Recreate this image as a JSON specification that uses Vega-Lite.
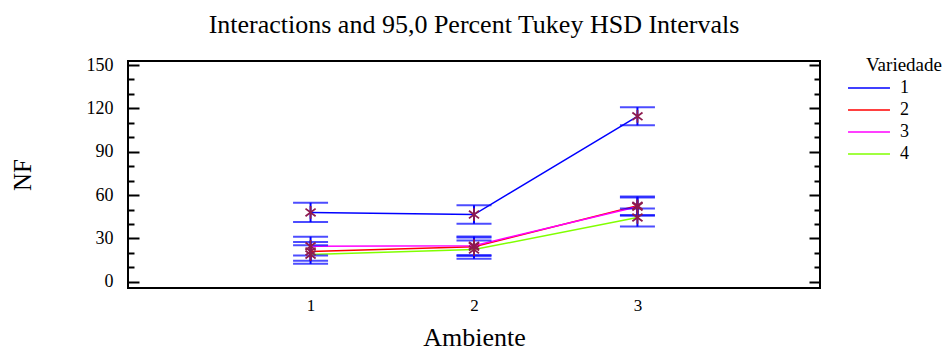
{
  "$schema": "https://vega.github.io/schema/vega-lite/v6.json",
  "width": 692,
  "height": 227,
  "autosize": "none",
  "padding": {"left": 128, "top": 61, "right": 126, "bottom": 59},
  "background": "white",
  "title": {
    "text": "Interactions and 95,0 Percent Tukey HSD Intervals",
    "font": "Liberation Serif",
    "fontSize": 26,
    "fontWeight": "normal",
    "color": "black",
    "anchor": "middle",
    "baseline": "alphabetic",
    "offset": -3
  },
  "config": {
    "view": {"stroke": "black", "strokeWidth": 2},
    "axis": {"grid": false, "domain": false, "labelFont": "Liberation Serif", "titleFont": "Liberation Serif", "labelColor": "black", "titleColor": "black", "tickColor": "black", "titleFontWeight": "normal"}
  },
  "data": {
    "values": [
      {"Ambiente": 1, "Variedade": "1", "NF": 48.0, "lower": 41.3, "upper": 54.7},
      {"Ambiente": 2, "Variedade": "1", "NF": 46.5, "lower": 40.2, "upper": 52.9},
      {"Ambiente": 3, "Variedade": "1", "NF": 114.5, "lower": 108.3, "upper": 120.8},
      {"Ambiente": 1, "Variedade": "2", "NF": 21.0, "lower": 14.5, "upper": 27.5},
      {"Ambiente": 2, "Variedade": "2", "NF": 24.3, "lower": 17.9, "upper": 30.7},
      {"Ambiente": 3, "Variedade": "2", "NF": 52.6, "lower": 46.2, "upper": 59.0},
      {"Ambiente": 1, "Variedade": "3", "NF": 24.6, "lower": 18.2, "upper": 31.2},
      {"Ambiente": 2, "Variedade": "3", "NF": 25.0, "lower": 18.6, "upper": 31.4},
      {"Ambiente": 3, "Variedade": "3", "NF": 52.0, "lower": 45.7, "upper": 58.4},
      {"Ambiente": 1, "Variedade": "4", "NF": 18.8, "lower": 12.4, "upper": 25.2},
      {"Ambiente": 2, "Variedade": "4", "NF": 22.3, "lower": 16.0, "upper": 28.6},
      {"Ambiente": 3, "Variedade": "4", "NF": 44.5, "lower": 38.2, "upper": 50.8}
    ]
  },
  "encoding": {
    "x": {
      "field": "Ambiente",
      "type": "quantitative",
      "scale": {"domain": [-0.117, 4.117], "nice": false, "zero": false},
      "axis": {"values": [1, 2, 3], "ticks": false, "labelFontSize": 17, "labelPadding": 9, "title": "Ambiente", "titleFontSize": 26, "titlePadding": 11, "labelFlush": false}
    }
  },
  "layer": [
    {
      "mark": {"type": "line", "strokeWidth": 1.5},
      "encoding": {
        "y": {
          "field": "NF",
          "type": "quantitative",
          "scale": {"domain": [-4.3, 152.8], "nice": false, "zero": false},
          "axis": {
            "orient": "left",
            "values": [0, 10, 20, 30, 40, 50, 60, 70, 80, 90, 100, 110, 120, 130, 140, 150],
            "labelExpr": "datum.value % 30 === 0 ? datum.label : ''",
            "tickSize": {"condition": {"test": "datum.value % 30 === 0", "value": -11}, "value": -6},
            "tickWidth": 2,
            "labelPadding": 26,
            "labelFontSize": 18,
            "labelFlush": false,
            "labelOverlap": false,
            "title": "NF",
            "titleFontSize": 25,
            "titlePadding": 51
          }
        },
        "color": {
          "field": "Variedade",
          "type": "nominal",
          "scale": {"domain": ["1", "2", "3", "4"], "range": ["#0000FF", "#FF0000", "#FF00FF", "#80FF00"]},
          "legend": {
            "orient": "none",
            "legendX": 738,
            "legendY": -5,
            "padding": 0,
            "title": "Variedade",
            "titleFont": "Liberation Serif",
            "titleFontSize": 19,
            "titleFontWeight": "normal",
            "titleColor": "black",
            "titlePadding": 4,
            "labelFont": "Liberation Serif",
            "labelFontSize": 18,
            "labelColor": "black",
            "symbolType": "M-4,0L4,0",
            "symbolSize": 110,
            "symbolStrokeWidth": 1.5,
            "symbolOffset": -6,
            "labelOffset": 22,
            "rowPadding": 4
          }
        }
      }
    },
    {
      "mark": {"type": "rule", "color": "#0000FF", "strokeWidth": 2},
      "encoding": {
        "y": {
          "field": "lower",
          "type": "quantitative",
          "axis": {
            "orient": "right",
            "values": [0, 10, 20, 30, 40, 50, 60, 70, 80, 90, 100, 110, 120, 130, 140, 150],
            "labels": false,
            "tickSize": {"condition": {"test": "datum.value % 30 === 0", "value": -11}, "value": -6},
            "tickWidth": 2,
            "title": null
          }
        },
        "y2": {"field": "upper"}
      }
    },
    {
      "mark": {"type": "tick", "orient": "horizontal", "color": "#0000FF", "size": 35, "thickness": 2},
      "encoding": {
        "y": {"field": "lower", "type": "quantitative", "axis": null}
      }
    },
    {
      "mark": {"type": "tick", "orient": "horizontal", "color": "#0000FF", "size": 35, "thickness": 2},
      "encoding": {
        "y": {"field": "upper", "type": "quantitative", "axis": null}
      }
    },
    {
      "mark": {"type": "point", "shape": "M0,-1L0,1M-0.8,-0.6L0.8,0.6M-0.8,0.6L0.8,-0.6", "filled": false, "color": "#8E1B4F", "size": 160, "strokeWidth": 1.8, "opacity": 1},
      "encoding": {
        "y": {"field": "NF", "type": "quantitative", "axis": null}
      }
    }
  ],
  "resolve": {"axis": {"y": "independent"}}
}
